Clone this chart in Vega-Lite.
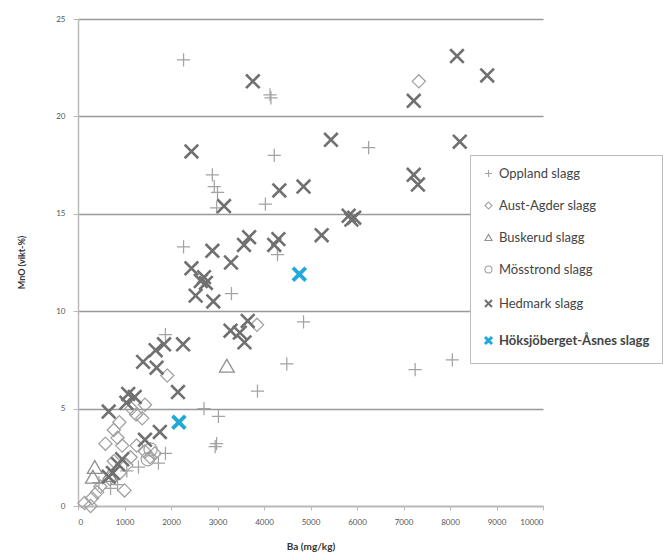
{
  "$schema": "https://vega.github.io/schema/vega-lite/v6.json",
  "width": 465,
  "height": 487,
  "autosize": {"type": "none"},
  "padding": {"left": 78, "top": 19, "right": 120, "bottom": 50},
  "config": {
    "font": "Lato",
    "view": {"stroke": null}
  },
  "data": {"values": [
    {"series": "Oppland slagg", "Ba": 2270, "MnO": 22.9},
    {"series": "Oppland slagg", "Ba": 4130, "MnO": 21.1},
    {"series": "Oppland slagg", "Ba": 4150, "MnO": 20.95},
    {"series": "Oppland slagg", "Ba": 4220, "MnO": 18.0},
    {"series": "Oppland slagg", "Ba": 6250, "MnO": 18.4},
    {"series": "Oppland slagg", "Ba": 2890, "MnO": 17.0},
    {"series": "Oppland slagg", "Ba": 2930, "MnO": 16.4},
    {"series": "Oppland slagg", "Ba": 3000, "MnO": 16.1},
    {"series": "Oppland slagg", "Ba": 2980, "MnO": 15.3},
    {"series": "Oppland slagg", "Ba": 4030, "MnO": 15.5},
    {"series": "Oppland slagg", "Ba": 2270, "MnO": 13.3},
    {"series": "Oppland slagg", "Ba": 4290, "MnO": 12.9},
    {"series": "Oppland slagg", "Ba": 3300, "MnO": 10.9},
    {"series": "Oppland slagg", "Ba": 4850, "MnO": 9.45},
    {"series": "Oppland slagg", "Ba": 1880, "MnO": 8.8},
    {"series": "Oppland slagg", "Ba": 4490, "MnO": 7.3},
    {"series": "Oppland slagg", "Ba": 7250, "MnO": 7.0},
    {"series": "Oppland slagg", "Ba": 8050, "MnO": 7.5},
    {"series": "Oppland slagg", "Ba": 3860, "MnO": 5.9},
    {"series": "Oppland slagg", "Ba": 2710, "MnO": 5.0},
    {"series": "Oppland slagg", "Ba": 3020, "MnO": 4.6},
    {"series": "Oppland slagg", "Ba": 2980, "MnO": 3.2},
    {"series": "Oppland slagg", "Ba": 2950, "MnO": 3.05},
    {"series": "Oppland slagg", "Ba": 1880, "MnO": 2.7},
    {"series": "Oppland slagg", "Ba": 1730, "MnO": 2.2},
    {"series": "Oppland slagg", "Ba": 1050, "MnO": 1.8},
    {"series": "Oppland slagg", "Ba": 700, "MnO": 0.9},
    {"series": "Oppland slagg", "Ba": 1300, "MnO": 2.0},
    {"series": "Oppland slagg", "Ba": 450, "MnO": 1.2},
    {"series": "Oppland slagg", "Ba": 850, "MnO": 1.1},
    {"series": "Aust-Agder slagg", "Ba": 7330, "MnO": 21.8},
    {"series": "Aust-Agder slagg", "Ba": 3850, "MnO": 9.3},
    {"series": "Aust-Agder slagg", "Ba": 1920, "MnO": 6.7},
    {"series": "Aust-Agder slagg", "Ba": 1440, "MnO": 5.2},
    {"series": "Aust-Agder slagg", "Ba": 1380, "MnO": 4.5},
    {"series": "Aust-Agder slagg", "Ba": 890, "MnO": 4.3},
    {"series": "Aust-Agder slagg", "Ba": 770, "MnO": 3.9},
    {"series": "Aust-Agder slagg", "Ba": 590, "MnO": 3.2},
    {"series": "Aust-Agder slagg", "Ba": 950, "MnO": 3.1},
    {"series": "Aust-Agder slagg", "Ba": 1260, "MnO": 3.1},
    {"series": "Aust-Agder slagg", "Ba": 1440, "MnO": 2.8},
    {"series": "Aust-Agder slagg", "Ba": 1650, "MnO": 2.7},
    {"series": "Aust-Agder slagg", "Ba": 1130, "MnO": 2.5},
    {"series": "Aust-Agder slagg", "Ba": 1040, "MnO": 2.1},
    {"series": "Aust-Agder slagg", "Ba": 770, "MnO": 2.3},
    {"series": "Aust-Agder slagg", "Ba": 680, "MnO": 1.4},
    {"series": "Aust-Agder slagg", "Ba": 1000, "MnO": 0.8},
    {"series": "Aust-Agder slagg", "Ba": 410, "MnO": 0.7},
    {"series": "Aust-Agder slagg", "Ba": 300, "MnO": 0.4},
    {"series": "Aust-Agder slagg", "Ba": 140, "MnO": 0.15},
    {"series": "Aust-Agder slagg", "Ba": 270, "MnO": 0.0},
    {"series": "Aust-Agder slagg", "Ba": 1150, "MnO": 5.0},
    {"series": "Aust-Agder slagg", "Ba": 1250, "MnO": 4.7},
    {"series": "Aust-Agder slagg", "Ba": 850, "MnO": 3.5},
    {"series": "Aust-Agder slagg", "Ba": 1550, "MnO": 2.5},
    {"series": "Aust-Agder slagg", "Ba": 480, "MnO": 1.0},
    {"series": "Aust-Agder slagg", "Ba": 900, "MnO": 1.7},
    {"series": "Buskerud slagg", "Ba": 3200, "MnO": 7.2},
    {"series": "Buskerud slagg", "Ba": 360, "MnO": 2.0},
    {"series": "Buskerud slagg", "Ba": 320, "MnO": 1.5},
    {"series": "Buskerud slagg", "Ba": 680, "MnO": 1.6},
    {"series": "Mösstrond slagg", "Ba": 1560, "MnO": 2.9},
    {"series": "Mösstrond slagg", "Ba": 1500, "MnO": 2.4},
    {"series": "Hedmark slagg", "Ba": 8150, "MnO": 23.1},
    {"series": "Hedmark slagg", "Ba": 3760, "MnO": 21.8},
    {"series": "Hedmark slagg", "Ba": 8800, "MnO": 22.1},
    {"series": "Hedmark slagg", "Ba": 7220, "MnO": 20.8},
    {"series": "Hedmark slagg", "Ba": 5440, "MnO": 18.8},
    {"series": "Hedmark slagg", "Ba": 8210, "MnO": 18.7},
    {"series": "Hedmark slagg", "Ba": 2440, "MnO": 18.2},
    {"series": "Hedmark slagg", "Ba": 7220, "MnO": 17.0},
    {"series": "Hedmark slagg", "Ba": 7310, "MnO": 16.5},
    {"series": "Hedmark slagg", "Ba": 4850, "MnO": 16.4},
    {"series": "Hedmark slagg", "Ba": 4330, "MnO": 16.2},
    {"series": "Hedmark slagg", "Ba": 3140, "MnO": 15.4},
    {"series": "Hedmark slagg", "Ba": 5820, "MnO": 14.9},
    {"series": "Hedmark slagg", "Ba": 5940, "MnO": 14.8},
    {"series": "Hedmark slagg", "Ba": 5880, "MnO": 14.7},
    {"series": "Hedmark slagg", "Ba": 5240, "MnO": 13.9},
    {"series": "Hedmark slagg", "Ba": 3680, "MnO": 13.8},
    {"series": "Hedmark slagg", "Ba": 3570, "MnO": 13.4},
    {"series": "Hedmark slagg", "Ba": 4310, "MnO": 13.7},
    {"series": "Hedmark slagg", "Ba": 4220, "MnO": 13.4},
    {"series": "Hedmark slagg", "Ba": 2890, "MnO": 13.1},
    {"series": "Hedmark slagg", "Ba": 3290, "MnO": 12.5},
    {"series": "Hedmark slagg", "Ba": 2440, "MnO": 12.2},
    {"series": "Hedmark slagg", "Ba": 2710, "MnO": 11.75},
    {"series": "Hedmark slagg", "Ba": 2750, "MnO": 11.45},
    {"series": "Hedmark slagg", "Ba": 2640, "MnO": 11.55},
    {"series": "Hedmark slagg", "Ba": 2530, "MnO": 10.8},
    {"series": "Hedmark slagg", "Ba": 2910, "MnO": 10.5},
    {"series": "Hedmark slagg", "Ba": 3280, "MnO": 9.0},
    {"series": "Hedmark slagg", "Ba": 3650, "MnO": 9.5},
    {"series": "Hedmark slagg", "Ba": 3480, "MnO": 8.9},
    {"series": "Hedmark slagg", "Ba": 3580, "MnO": 8.4},
    {"series": "Hedmark slagg", "Ba": 2260, "MnO": 8.3},
    {"series": "Hedmark slagg", "Ba": 1850, "MnO": 8.3},
    {"series": "Hedmark slagg", "Ba": 1670, "MnO": 8.0},
    {"series": "Hedmark slagg", "Ba": 1400, "MnO": 7.4},
    {"series": "Hedmark slagg", "Ba": 1690, "MnO": 7.1},
    {"series": "Hedmark slagg", "Ba": 2150, "MnO": 5.85},
    {"series": "Hedmark slagg", "Ba": 660, "MnO": 4.85},
    {"series": "Hedmark slagg", "Ba": 1080, "MnO": 5.75},
    {"series": "Hedmark slagg", "Ba": 1220, "MnO": 5.6},
    {"series": "Hedmark slagg", "Ba": 1040, "MnO": 5.3},
    {"series": "Hedmark slagg", "Ba": 1760, "MnO": 3.8},
    {"series": "Hedmark slagg", "Ba": 1440, "MnO": 3.4},
    {"series": "Hedmark slagg", "Ba": 950, "MnO": 2.4},
    {"series": "Hedmark slagg", "Ba": 860, "MnO": 2.15},
    {"series": "Hedmark slagg", "Ba": 750, "MnO": 1.7},
    {"series": "Hedmark slagg", "Ba": 660, "MnO": 1.5},
    {"series": "Höksjöberget-Åsnes slagg", "Ba": 4760, "MnO": 11.9},
    {"series": "Höksjöberget-Åsnes slagg", "Ba": 2170, "MnO": 4.3}
  ]},
  "mark": {"type": "point", "filled": false, "opacity": 1},
  "encoding": {
    "x": {
      "field": "Ba", "type": "quantitative",
      "scale": {"domain": [0, 10000], "nice": false},
      "axis": {
        "title": "Ba (mg/kg)", "values": [0,1000,2000,3000,4000,5000,6000,7000,8000,9000,10000],
        "format": "d", "grid": false, "domainColor": "#bbb", "domainWidth": 1.5,
        "tickColor": "#bbb", "tickSize": 4, "labelPadding": 8, "labelFontSize": 8,
        "labelColor": "#555", "titleFontSize": 10, "titleFontWeight": "bold",
        "titleColor": "#333", "titleY": 40, "titleBaseline": "middle"
      }
    },
    "y": {
      "field": "MnO", "type": "quantitative",
      "scale": {"domain": [0, 25], "nice": false},
      "axis": {
        "title": "MnO (vikt-%)", "values": [0,5,10,15,20,25],
        "grid": true, "gridColor": "#999", "gridWidth": 1.5,
        "domainColor": "#bbb", "domainWidth": 1.5, "tickColor": "#bbb", "tickSize": 5,
        "labelPadding": 8, "labelFontSize": 8, "labelColor": "#555",
        "titleFontSize": 9, "titleFontWeight": "bold", "titleColor": "#333",
        "titleX": -57, "titleY": 243, "titleAlign": "center", "titleBaseline": "middle"
      }
    },
    "shape": {
      "field": "series", "type": "nominal",
      "scale": {
        "domain": ["Oppland slagg", "Aust-Agder slagg", "Buskerud slagg", "Mösstrond slagg", "Hedmark slagg", "Höksjöberget-Åsnes slagg"],
        "range": ["M-1,0L1,0M0,-1L0,1", "diamond", "triangle-up", "circle", "M-1,-1L1,1M-1,1L1,-1", "M-1,-1L1,1M-1,1L1,-1"]
      },
      "legend": {
        "title": null, "orient": "none", "legendX": 392, "legendY": 136,
        "padding": 12, "strokeColor": "#bbb", "fillColor": "white",
        "rowPadding": 18, "labelFontSize": 13, "labelColor": "#444",
        "symbolSize": 50, "labelLimit": 400, "labelOffset": 4,
        "labelFontWeight": {"expr": "datum.label == 'Höksjöberget-Åsnes slagg' ? 'bold' : 'normal'"},
        "symbolStrokeWidth": {"expr": "datum.label == 'Höksjöberget-Åsnes slagg' ? 3 : datum.label == 'Hedmark slagg' ? 2 : 1.1"}
      }
    },
    "stroke": {
      "field": "series", "type": "nominal",
      "scale": {
        "domain": ["Oppland slagg", "Aust-Agder slagg", "Buskerud slagg", "Mösstrond slagg", "Hedmark slagg", "Höksjöberget-Åsnes slagg"],
        "range": ["#a3a3a3", "#a0a0a0", "#8f8f8f", "#a0a0a0", "#707070", "#1fa8d8"]
      },
      "legend": {
        "title": null, "orient": "none", "legendX": 392, "legendY": 136,
        "padding": 12, "strokeColor": "#bbb", "fillColor": "white",
        "rowPadding": 18, "labelFontSize": 13, "labelColor": "#444",
        "symbolSize": 50, "labelLimit": 400, "labelOffset": 4,
        "labelFontWeight": {"expr": "datum.label == 'Höksjöberget-Åsnes slagg' ? 'bold' : 'normal'"},
        "symbolStrokeWidth": {"expr": "datum.label == 'Höksjöberget-Åsnes slagg' ? 3 : datum.label == 'Hedmark slagg' ? 2 : 1.1"}
      }
    },
    "size": {
      "condition": [
        {"test": "datum.series == 'Hedmark slagg'", "value": 185},
        {"test": "datum.series == 'Höksjöberget-Åsnes slagg'", "value": 165},
        {"test": "datum.series == 'Buskerud slagg'", "value": 220}
      ],
      "value": 175
    },
    "strokeWidth": {
      "condition": [
        {"test": "datum.series == 'Hedmark slagg'", "value": 2.6},
        {"test": "datum.series == 'Höksjöberget-Åsnes slagg'", "value": 3.8}
      ],
      "value": 1.25
    }
  }
}
